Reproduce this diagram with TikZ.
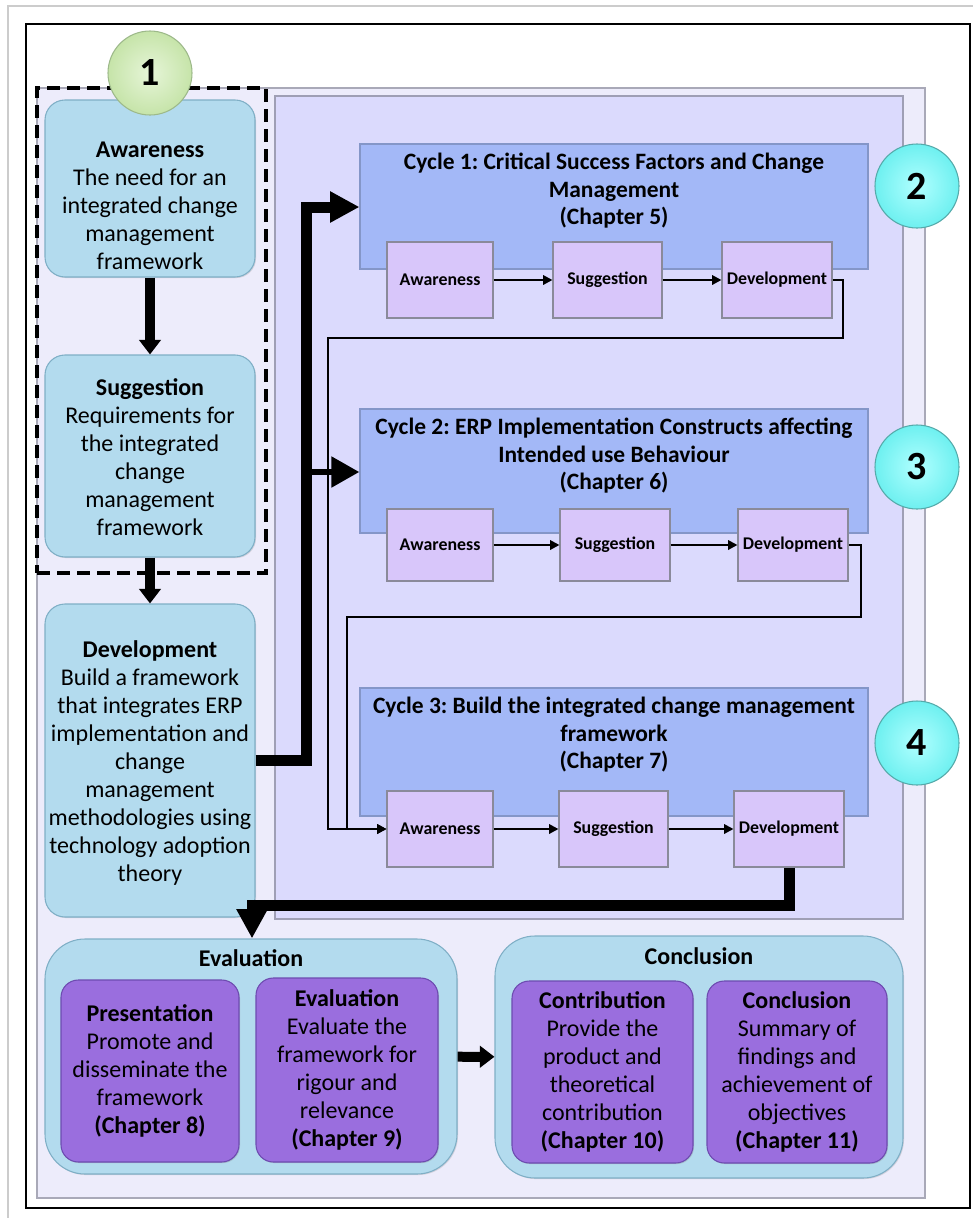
\documentclass[tikz,border=0pt]{standalone}
\usepackage{fontspec}
\setmainfont{Carlito}
\usetikzlibrary{arrows.meta,fit,shadows}

\definecolor{pageline}{HTML}{CCCCCC}
\definecolor{outerfill}{HTML}{EDECFB}
\definecolor{outerline}{HTML}{A9A9B8}
\definecolor{innerfill}{HTML}{DBDAFD}
\definecolor{innerline}{HTML}{9F9FB5}
\definecolor{phasefill}{HTML}{B3DBEE}
\definecolor{phaseline}{HTML}{7FAFC6}
\definecolor{cyclefill}{HTML}{A3B8F7}
\definecolor{cycleline}{HTML}{8496C8}
\definecolor{stepfill}{HTML}{D8C6FA}
\definecolor{stepline}{HTML}{8A8A9A}
\definecolor{chapfill}{HTML}{9A6EDE}
\definecolor{chapline}{HTML}{6D4BB0}
\definecolor{greenin}{HTML}{E6F5D8}
\definecolor{greenout}{HTML}{C6E4A9}
\definecolor{greenline}{HTML}{9DB98A}
\definecolor{cyanin}{HTML}{B0FFFF}
\definecolor{cyanout}{HTML}{6EF0F0}
\definecolor{cyanline}{HTML}{55AAAA}

\frenchspacing
\begin{document}
\begin{tikzpicture}[x=0.75pt,y=-0.75pt,
  bodyfont/.style={font=\fontsize{18}{21}\selectfont},
  stepfont/.style={font=\fontsize{13.4}{15}\selectfont\bfseries},
  outerpanel/.style={draw=outerline, fill=outerfill, line width=1.2pt, inner sep=0pt},
  innerpanel/.style={draw=innerline, fill=innerfill, line width=1.2pt, inner sep=0pt},
  phasebox/.style={draw=phaseline, fill=phasefill, line width=0.8pt, rounded corners=15pt, inner sep=0pt,
    drop shadow={shadow xshift=0.8pt, shadow yshift=-0.8pt, opacity=0.25}},
  groupbox/.style={draw=phaseline, fill=phasefill, line width=0.8pt, rounded corners=30pt, inner sep=0pt,
    drop shadow={shadow xshift=0.8pt, shadow yshift=-0.8pt, opacity=0.25}},
  chapbox/.style={draw=chapline, fill=chapfill, line width=0.8pt, rounded corners=13pt, inner sep=0pt,
    drop shadow={shadow xshift=0.8pt, shadow yshift=-0.8pt, opacity=0.3}},
  cyclebox/.style={draw=cycleline, fill=cyclefill, line width=0.8pt, inner sep=0pt,
    drop shadow={shadow xshift=0.8pt, shadow yshift=-0.8pt, opacity=0.3}},
  stepbox/.style={draw=stepline, fill=stepfill, line width=0.8pt, inner sep=0pt,
    drop shadow={shadow xshift=0.8pt, shadow yshift=-0.8pt, opacity=0.3}},
  cycletitle/.style={align=center, font=\fontsize{17.6}{20.6}\selectfont\bfseries},
  phasetext/.style={align=center, bodyfont},
  grouptitle/.style={font=\fontsize{18}{21}\selectfont\bfseries},
  greencirc/.style={circle, draw=greenline, line width=0.8pt, inner color=greenin, outer color=greenout,
    minimum size=63pt, inner sep=0pt, font=\fontsize{30}{30}\selectfont\bfseries},
  cyancirc/.style={circle, draw=cyanline, line width=0.8pt, inner color=cyanin, outer color=cyanout,
    minimum size=63pt, inner sep=0pt, font=\fontsize{30}{30}\selectfont\bfseries},
  dashbox/.style={draw=black, dash pattern=on 10pt off 5pt, line width=2.6pt, inner sep=0pt},
  thinarrow/.style={draw=black, line width=1.6pt, -{Triangle[length=7pt,width=7pt]}},
  bigarrow/.style={draw=black, line width=8.25pt, line join=miter, -{Triangle[length=22pt,width=22pt]}},
  midarrow/.style={draw=black, line width=5pt, -{Triangle[length=21pt,width=22pt]}},
  downarrow/.style={draw=black, line width=7.5pt, -{Triangle[length=11pt,width=16pt]}},
]
\useasboundingbox (0,0) rectangle (973,1218);
\fill[white] (0,0) rectangle (973,1218);

% page frame
\draw[pageline, line width=1pt] (8,1218) -- (8,6) -- (973,6);
\draw[black, line width=1.1pt] (26,24) rectangle (970,1208);

% panels
\node[outerpanel, fit={(37,88) (925,1198)}] (outer) {};
\node[innerpanel, fit={(275,96) (903,919)}] (inner) {};
\node[dashbox, fit={(37,88) (266,573)}] (phaseone) {};

% left column: awareness, suggestion, development
\node[phasebox, fit={(45,100) (255,277)}] (aw) {};
\node[phasetext] (awtext) at (150,206) {\textbf{Awareness}\\The need for an\\integrated change\\management\\framework};
\node[phasebox, fit={(45,355) (255,557)}] (sg) {};
\node[phasetext] (sgtext) at (150,457) {\textbf{Suggestion}\\Requirements for\\the integrated\\change\\management\\framework};
\node[phasebox, fit={(45,604) (255,917)}] (dv) {};
\node[phasetext] (dvtext) at (150,763) {\textbf{Development}\\Build a framework\\that integrates ERP\\implementation and\\change\\management\\methodologies using\\technology adoption\\theory};

\node[greencirc] (c1) at (150,73) {1};

\draw[downarrow] (aw) -- (sg);
\draw[downarrow] (sg) -- (dv);

% cycle 1
\node[cyclebox, fit={(360,144) (868,269)}] (cy1) {};
\node[cycletitle] (t1) at (614,191) {Cycle 1: Critical Success Factors and Change\\Management\\(Chapter 5)};
\node[stepbox, fit={(387,242) (493,318)}] (a1) {};
\node[stepfont] (a1t) at (a1) {Awareness};
\node[stepbox, fit={(553,242) (662,318)}] (s1) {};
\node[stepfont] (s1t) at (s1) {Suggestion};
\node[stepbox, fit={(722,242) (832,318)}] (d1) {};
\node[stepfont] (d1t) at (d1) {Development};

% cycle 2
\node[cyclebox, fit={(360,409) (868,533)}] (cy2) {};
\node[cycletitle] (t2) at (614,456) {Cycle 2: ERP Implementation Constructs affecting\\Intended use Behaviour\\(Chapter 6)};
\node[stepbox, fit={(387,509) (493,581)}] (a2) {};
\node[stepfont] (a2t) at (a2) {Awareness};
\node[stepbox, fit={(560,509) (670,581)}] (s2) {};
\node[stepfont] (s2t) at (s2) {Suggestion};
\node[stepbox, fit={(738,509) (848,581)}] (d2) {};
\node[stepfont] (d2t) at (d2) {Development};

% cycle 3
\node[cyclebox, fit={(360,688) (868,816)}] (cy3) {};
\node[cycletitle] (t3) at (614,735) {Cycle 3: Build the integrated change management\\framework\\(Chapter 7)};
\node[stepbox, fit={(387,791) (493,867)}] (a3) {};
\node[stepfont] (a3t) at (a3) {Awareness};
\node[stepbox, fit={(559,791) (668,867)}] (s3) {};
\node[stepfont] (s3t) at (s3) {Suggestion};
\node[stepbox, fit={(734,791) (844,867)}] (d3) {};
\node[stepfont] (d3t) at (d3) {Development};

% cycle numbers
\node[cyancirc] (c2) at (917,186) {2};
\node[cyancirc] (c3) at (917,467) {3};
\node[cyancirc] (c4) at (917,743) {4};

% steps inside the cycles
\draw[thinarrow] (a1) -- (s1);
\draw[thinarrow] (s1) -- (d1);
\draw[thinarrow] (a2) -- (s2);
\draw[thinarrow] (s2) -- (d2);
\draw[thinarrow] (a3) -- (s3);
\draw[thinarrow] (s3) -- (d3);

% feedback from cycles 1 and 2 into cycle 3
\coordinate (l1a) at (843,338);
\coordinate (l1b) at (328,338);
\coordinate (l2a) at (861,617);
\coordinate (l2b) at (347,617);
\draw[thinarrow] (d1.east) -| (l1a) -- (l1b) |- (a3.west);
\draw[thinarrow] (d2.east) -| (l2a) -- (l2b) |- (a3.west);

% development feeds the cycles
\coordinate (j1) at (306,207);
\coordinate (j2) at (306,472);
\draw[bigarrow] (dv.east) -| (j1) -- (j1 -| cy1.west);
\draw[midarrow] (j2) -- (j2 -| cy2.west);

% bottom groups
\node[groupbox, fit={(45,939) (457,1174)}] (evg) {};
\node[grouptitle] (evgt) at (251,958) {Evaluation};
\node[chapbox, fit={(61,980) (239,1162)}] (pres) {};
\node[phasetext] (prest) at (pres) {\textbf{Presentation}\\Promote and\\disseminate the\\framework\\\textbf{(Chapter 8)}};
\node[chapbox, fit={(256,978) (438,1162)}] (eval) {};
\node[phasetext] (evalt) at (eval) {\textbf{Evaluation}\\Evaluate the\\framework for\\rigour and\\relevance\\\textbf{(Chapter 9)}};

\node[groupbox, fit={(495,936) (903,1178)}] (cog) {};
\node[grouptitle] (cogt) at (699,956) {Conclusion};
\node[chapbox, fit={(512,981) (693,1163)}] (contr) {};
\node[phasetext] (contrt) at (contr) {\textbf{Contribution}\\Provide the\\product and\\theoretical\\contribution\\\textbf{(Chapter 10)}};
\node[chapbox, fit={(707,981) (887,1163)}] (concl) {};
\node[phasetext] (conclt) at (concl) {\textbf{Conclusion}\\Summary of\\findings and\\achievement of\\objectives\\\textbf{(Chapter 11)}};

% cycle 3 to evaluation, evaluation to conclusion
\coordinate (j3) at (252,905);
\draw[bigarrow] (d3.south) |- (j3) -- (j3 |- evg.north);
\draw[downarrow] (evg) -- (cog);

\end{tikzpicture}
\end{document}
